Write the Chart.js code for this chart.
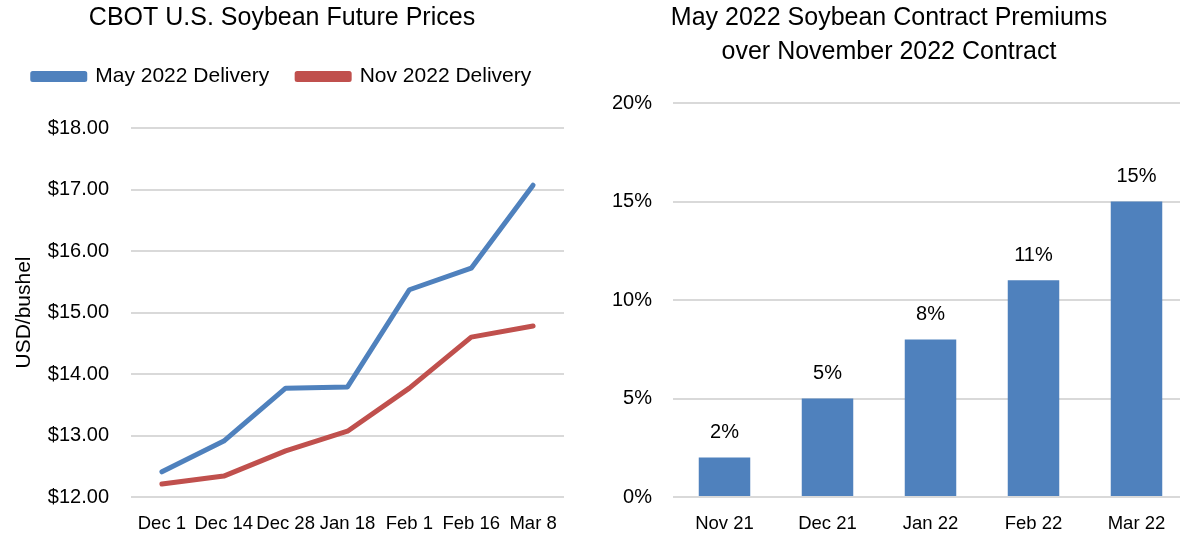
<!DOCTYPE html>
<html><head><meta charset="utf-8">
<script src="https://cdn.jsdelivr.net/npm/chart.js@4.4.1/dist/chart.umd.min.js"></script>
<style>
html,body{margin:0;padding:0;background:#fff;width:1180px;height:535px;overflow:hidden;position:relative}
#w1{position:absolute;left:0;top:0;width:565px;height:535px}
#w2{position:absolute;left:590px;top:0;width:630px;height:535px}
</style></head><body>
<div id="w1"><canvas id="c1"></canvas></div>
<div id="w2"><canvas id="c2"></canvas></div>
<script>
const dates = ["Dec 1","Dec 14","Dec 28","Jan 18","Feb 1","Feb 16","Mar 8"];
const may2022 = [12.41, 12.91, 13.77, 13.79, 15.37, 15.72, 17.07];
const nov2022 = [12.21, 12.34, 12.75, 13.07, 13.77, 14.60, 14.78];
const months = ["Nov 21","Dec 21","Jan 22","Feb 22","Mar 22"];
const premiums = [2, 5, 8, 11, 15];

const FONT = "'Liberation Sans', Arial, sans-serif";
const BLUE = "#4F81BD", RED = "#C0504D", GRID = "#D9D9D9";

const legendGap = {
  id: 'legendGap',
  beforeInit(chart) {
    const orig = chart.legend.fit;
    chart.legend.fit = function () { orig.call(this); this.height += 31; };
  }
};

new Chart(document.getElementById('c1'), {
  type: 'line',
  data: {
    labels: dates,
    datasets: [
      {label: "May 2022 Delivery", data: may2022, borderColor: BLUE, backgroundColor: BLUE, borderWidth: 5, pointRadius: 0, tension: 0, borderCapStyle: 'round', borderJoinStyle: 'round'},
      {label: "Nov 2022 Delivery", data: nov2022, borderColor: RED, backgroundColor: RED, borderWidth: 5, pointRadius: 0, tension: 0, borderCapStyle: 'round', borderJoinStyle: 'round'}
    ]
  },
  plugins: [legendGap],
  options: {
    responsive: true, maintainAspectRatio: false, animation: false,
    layout: {padding: {left: 0, right: 1, top: 0, bottom: 0}},
    plugins: {
      title: {display: true, text: "CBOT U.S. Soybean Future Prices", color: "#000", font: {family: FONT, size: 25, weight: 'normal', lineHeight: 1.2}, padding: {top: 3, bottom: 5}},
      legend: {display: true, position: 'top', labels: {color: "#000", font: {family: FONT, size: 21}, boxWidth: 52, boxHeight: 6, padding: 28}},
      tooltip: {enabled: false}
    },
    scales: {
      x: {
        offset: true,
        grid: {display: false}, border: {display: false},
        ticks: {color: "#000", font: {family: FONT, size: 18.5}, maxRotation: 0, autoSkip: false, padding: 8},
        afterFit: s => { s.height = 38; }
      },
      y: {
        min: 12, max: 18,
        grid: {color: GRID, lineWidth: 2, drawTicks: false}, border: {display: false},
        ticks: {stepSize: 1, color: "#000", font: {family: FONT, size: 20}, padding: 22, callback: v => "$" + v.toFixed(2)},
        title: {display: true, text: "USD/bushel", color: "#000", font: {family: FONT, size: 21}, padding: {top: 12, bottom: 0}},
        afterFit: s => { s.width = 131; }
      }
    }
  }
});

const barLabels = {
  id: 'barLabels',
  afterDatasetsDraw(chart) {
    const ctx = chart.ctx;
    const meta = chart.getDatasetMeta(0);
    ctx.save();
    ctx.fillStyle = "#000";
    ctx.font = "20px " + FONT;
    ctx.textAlign = 'center';
    ctx.textBaseline = 'middle';
    meta.data.forEach((bar, i) => {
      ctx.fillText(chart.data.datasets[0].data[i] + "%", bar.x, bar.y - 25);
    });
    ctx.restore();
  }
};

new Chart(document.getElementById('c2'), {
  type: 'bar',
  data: {
    labels: months,
    datasets: [{label: "Premium", data: premiums, backgroundColor: BLUE, barPercentage: 0.5, categoryPercentage: 1}]
  },
  plugins: [barLabels],
  options: {
    responsive: true, maintainAspectRatio: false, animation: false,
    layout: {padding: {left: 0, right: 32, top: 0, bottom: 0}},
    plugins: {
      title: {display: true, text: ["May 2022 Soybean Contract Premiums", "over November 2022 Contract"], color: "#000", font: {family: FONT, size: 25, weight: 'normal', lineHeight: 1.35}, padding: {top: 1, bottom: 34.5}},
      legend: {display: false},
      tooltip: {enabled: false}
    },
    scales: {
      x: {
        grid: {display: false}, border: {display: false},
        ticks: {color: "#000", font: {family: FONT, size: 18.5}, maxRotation: 0, padding: 8},
        afterFit: s => { s.height = 38; }
      },
      y: {
        min: 0, max: 20,
        grid: {color: GRID, lineWidth: 2, drawTicks: false}, border: {display: false},
        ticks: {stepSize: 5, color: "#000", font: {family: FONT, size: 20}, padding: 21, callback: v => v + "%"},
        afterFit: s => { s.width = 83; }
      }
    }
  }
});
</script>
</body></html>
